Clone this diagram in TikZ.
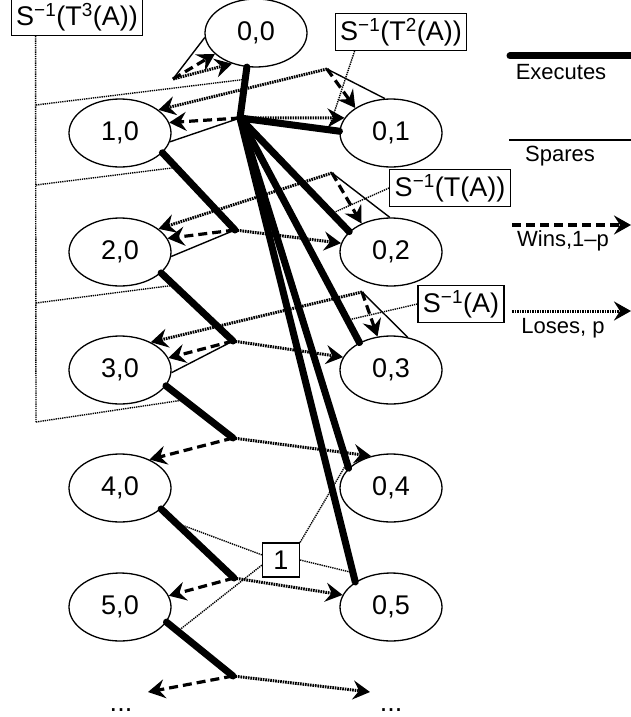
\documentclass[tikz,border=0pt]{standalone}
\usepackage{fontspec}
\setmainfont{Liberation Sans}
\usetikzlibrary{arrows.meta,shapes.geometric}
\tikzset{st/.style={draw,ellipse,line width=1.3pt,minimum width=102pt,minimum height=68pt,inner sep=0pt,font=\fontsize{27}{30}\selectfont},
lbl/.style={draw,line width=1.3pt,inner xsep=5pt,inner ysep=4.5pt,font=\fontsize{27}{30}\selectfont},
legtext/.style={font=\fontsize{22}{26}\selectfont},
tip/.style={-{Stealth[length=17pt,width=19pt,inset=6pt]}},
exec/.style={line width=7pt,line cap=round},
spare/.style={line width=1.4pt},
win/.style={tip,line width=3.2pt,dash pattern=on 9pt off 5pt},
lose/.style={tip,line width=3pt,dash pattern=on 1.6pt off 0.9pt},
lead/.style={line width=1.4pt,dash pattern=on 1.3pt off 0.9pt}}

\begin{document}
\begin{tikzpicture}[x=1pt,y=-1pt]
\useasboundingbox (0,0) rectangle (631,717);
% states
\node[st] (e00) at (256,33) {0,0};
\foreach \i/\y in {1/133,2/252,3/370,4/488,5/607}{
  \node[st] (e\i0) at (120,\y) {\i,0};
  \node[st] (e0\i) at (391,\y) {0,\i};
}
\node[anchor=base,font=\fontsize{27}{30}\selectfont] (d60) at (121,711) {...};
\node[anchor=base,font=\fontsize{27}{30}\selectfont] (d06) at (391,711) {...};
\coordinate (w6) at (148,692);
\coordinate (l6) at (370,692);
% branch points
\coordinate (P0) at (240,118);
\coordinate (P1) at (235,230);
\coordinate (P2) at (233,341);
\coordinate (P3) at (233,438);
\coordinate (P4) at (234,578);
\coordinate (P5) at (233,676);
\coordinate (Q0) at (173,79);
\coordinate (Q1) at (327,69);
\coordinate (Q2) at (332,173);
\coordinate (Q3) at (362,292);
% spares
\draw[spare] (e00.185) -- (Q0);
\draw[spare] (e01.100) -- (Q1);
\draw[spare] (e02.92) -- (Q2);
\draw[spare] (e03.63) -- (Q3);
\draw[spare] (e10.-10) -- (P0);
\draw[spare] (e20.-5) -- (P1);
\draw[spare] (e30.-3) -- (P2);
% wins
\draw[win] (Q0) -- (e00.207);
\draw[win] (P0) -- (e10.12);
\draw[win] (Q1) -- (e01.145);
\draw[win] (P1) -- (e20.16);
\draw[win] (Q2) -- (e02.136);
\draw[win] (P2) -- (e30.14);
\draw[win] (Q3) -- (e03.112);
\draw[win] (P3) -- (e40.44);
\draw[win] (P4) -- (e50.13);
\draw[win] (P5) -- (w6);
% loses
\draw[lose] (Q0) -- (e00.232);
\draw[lose] (P0) -- (e01.162);
\draw[lose] (Q1) -- (e10.31);
\draw[lose] (P1) -- (e02.170);
\draw[lose] (Q2) -- (e20.31);
\draw[lose] (P2) -- (e03.165);
\draw[lose] (Q3) -- (e30.42);
\draw[lose] (P3) -- (e04.122);
\draw[lose] (P4) -- (e05.166);
\draw[lose] (P5) -- (l6);
% executes
\draw[exec] (e00.-105) -- (P0) coordinate[pos=.24] (t00);
\draw[exec] (P0) -- (e01.178) coordinate[pos=.89] (t01);
\draw[exec] (P0) -- (e02.154) coordinate[pos=.84] (t02);
\draw[exec] (P0) -- (e03.139) coordinate[pos=.9] (t03);
\draw[exec] (P0) -- (e04.155) coordinate[pos=.985] (t04);
\draw[exec] (P0) -- (e05.145) coordinate[pos=.98] (t05);
\draw[exec] (e10.-25) -- (P1) coordinate[pos=.19] (t10);
\draw[exec] (e20.-27) -- (P2) coordinate[pos=.18] (t20);
\draw[exec] (e30.-19) -- (P3) coordinate[pos=.27] (t30);
\draw[exec] (e40.-27) -- (P4) coordinate[pos=.2] (t40);
\draw[exec] (e50.-18) -- (P5) coordinate[pos=.17] (t50);
% labels
\node[lbl] (L3) at (77,17) {S\textsuperscript{−1}(T\textsuperscript{3}(A))};
\node[lbl] (L2) at (401,32) {S\textsuperscript{−1}(T\textsuperscript{2}(A))};
\node[lbl] (L1) at (450,188) {S\textsuperscript{−1}(T(A))};
\node[lbl] (L0) at (461,304) {S\textsuperscript{−1}(A)};
\node[lbl,minimum width=37pt,minimum height=34pt,inner sep=0pt] (one) at (281,560) {1};
\coordinate (b1) at (36,105);
\coordinate (b2) at (36,185);
\coordinate (b3) at (36,303);
\coordinate (b4) at (36,422);
\draw[lead] ([xshift=25pt]L3.south west) -- (b4);
\draw[lead] (b1) -- (t00);
\draw[lead] (b2) -- (t10);
\draw[lead] (b3) -- (t20);
\draw[lead] (b4) -- (t30);
\draw[lead] ([xshift=20pt]L2.south west) -- (t01);
\draw[lead] (L1.west) -- (t02);
\draw[lead] (L0.west) -- (t03);
\draw[lead] (one.165) -- (t40);
\draw[lead] (one.195) -- (t50);
\draw[lead] (one.north east) -- (t04);
\draw[lead] (one.east) -- (t05);
% legend
\coordinate (x1) at (510,56);
\coordinate (x2) at (640,56);
\coordinate (s1) at (509,140);
\coordinate (s2) at (631,140);
\coordinate (w1) at (512,225);
\coordinate (w2) at (631,225);
\coordinate (l1) at (512,311);
\coordinate (l2) at (631,311);
\draw[exec] (x1) -- (x2);
\draw[spare] (s1) -- (s2);
\draw[win] (w1) -- (w2);
\draw[lose] (l1) -- (l2);
\node[legtext] (kx) at (561,72) {Executes};
\node[legtext] (ks) at (560,156) {Spares};
\node[legtext] (kw) at (563,241) {Wins,1–p};
\node[legtext] (kl) at (563,328) {Loses, p};
\end{tikzpicture}
\end{document}
